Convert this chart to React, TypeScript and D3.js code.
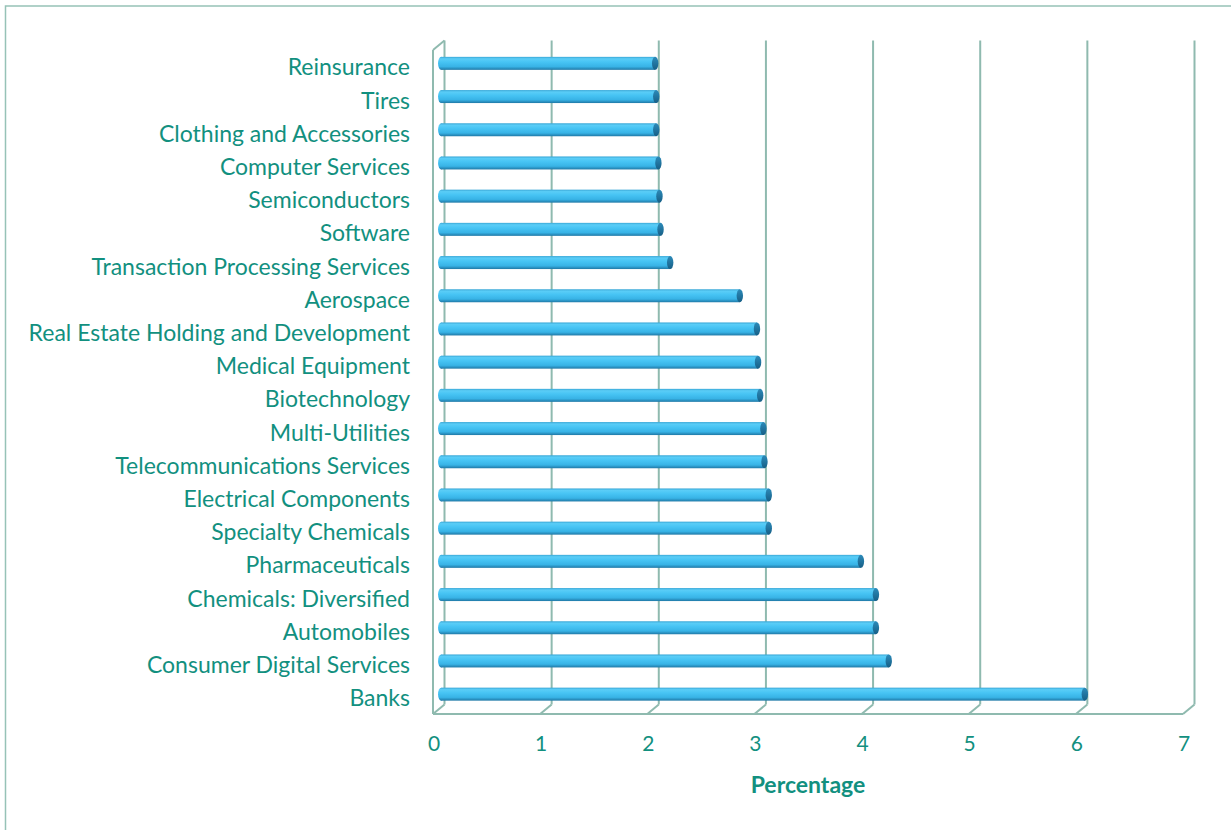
import React from "react";
import * as d3 from "d3";

const categories: string[] = [
  "Reinsurance",
  "Tires",
  "Clothing and Accessories",
  "Computer Services",
  "Semiconductors",
  "Software",
  "Transaction Processing Services",
  "Aerospace",
  "Real Estate Holding and Development",
  "Medical Equipment",
  "Biotechnology",
  "Multi-Utilities",
  "Telecommunications Services",
  "Electrical Components",
  "Specialty Chemicals",
  "Pharmaceuticals",
  "Chemicals: Diversified",
  "Automobiles",
  "Consumer Digital Services",
  "Banks",
];

const values: number[] = [
  2.02, 2.03, 2.03, 2.05, 2.06, 2.07, 2.16, 2.81, 2.97, 2.98, 3.0, 3.03, 3.04,
  3.08, 3.08, 3.94, 4.08, 4.08, 4.2, 6.03,
];

const ticks: number[] = [0, 1, 2, 3, 4, 5, 6, 7];
const axisTitle = "Percentage";

const W = 1231;
const H = 830;
const FONT = "Lato, 'Open Sans', sans-serif";
const TEXT = "#12907F";
const GRID = "#8FBAAF";

export default function App() {
  const left = 433;
  const right = 1183;
  const top = 50;
  const floor = 714;
  const dx = 11.5;
  const dy = -9.5;

  const x = d3.scaleLinear().domain([0, 7]).range([left, right]);
  const y = d3.scaleBand<string>().domain(categories).range([top, floor]);
  const bw = y.bandwidth();
  const barH = 13;
  const capRx = 3.2;

  return (
    <svg
      width={W}
      height={H}
      style={{ position: "absolute", left: 0, top: 0, background: "#fff" }}
    >
      <defs>
        <linearGradient id="cyl" x1="0" y1="0" x2="0" y2="1">
          <stop offset="0" stopColor="#3AA7D6" />
          <stop offset="0.15" stopColor="#5ACDF7" />
          <stop offset="0.4" stopColor="#47C4F4" />
          <stop offset="0.75" stopColor="#38B3E6" />
          <stop offset="1" stopColor="#1F78A6" />
        </linearGradient>
        <linearGradient id="cap" x1="0" y1="0" x2="0" y2="1">
          <stop offset="0" stopColor="#2C8BBA" />
          <stop offset="1" stopColor="#175F86" />
        </linearGradient>
      </defs>

      {/* outer border */}
      <rect x={5.5} y={6} width={W + 20} height={H + 20} fill="none" stroke="#96C2B7" strokeWidth={1.5} />

      {/* left wall */}
      <line x1={left} y1={top} x2={left} y2={floor} stroke={GRID} strokeWidth={2} />
      <line x1={left} y1={top} x2={left + dx} y2={top + dy} stroke={GRID} strokeWidth={2} />
      {/* floor front edge */}
      <line x1={left} y1={floor} x2={right} y2={floor} stroke={GRID} strokeWidth={2} />

      {/* back wall gridlines + floor diagonals */}
      {ticks.map((t) => (
        <g key={"g" + t}>
          <line
            x1={x(t) + dx}
            y1={top + dy}
            x2={x(t) + dx}
            y2={floor + dy}
            stroke={GRID}
            strokeWidth={2}
          />
          <line
            x1={x(t) + dx}
            y1={floor + dy}
            x2={x(t)}
            y2={floor}
            stroke={GRID}
            strokeWidth={2}
          />
        </g>
      ))}

      {/* bars */}
      {categories.map((c, i) => {
        const cy = (y(c) as number) + bw / 2 + dy / 2 + 1.5;
        const xs = x(0) + dx / 2 + 2.5;
        const xe = x(values[i]) + dx / 2;
        return (
          <g key={c}>
            <ellipse cx={xs} cy={cy} rx={capRx} ry={barH / 2} fill="url(#cyl)" />
            <rect x={xs} y={cy - barH / 2} width={xe - xs} height={barH} fill="url(#cyl)" />
            <ellipse cx={xe} cy={cy} rx={capRx} ry={barH / 2} fill="url(#cap)" />
          </g>
        );
      })}

      {/* category labels */}
      {categories.map((c) => (
        <text
          key={"l" + c}
          x={410}
          y={(y(c) as number) + bw / 2 + 3}
          textAnchor="end"
          dominantBaseline="middle"
          fontFamily={FONT}
          fontSize={23}
          fill={TEXT}
        >
          {c}
        </text>
      ))}

      {/* tick labels */}
      {ticks.map((t) => (
        <text
          key={"t" + t}
          x={x(t) + 1}
          y={746}
          textAnchor="middle"
          dominantBaseline="middle"
          fontFamily={FONT}
          fontSize={21}
          fill={TEXT}
        >
          {t}
        </text>
      ))}

      <text
        x={(left + right) / 2}
        y={787}
        textAnchor="middle"
        dominantBaseline="middle"
        fontFamily={FONT}
        fontSize={23}
        fontWeight="bold"
        fill={TEXT}
      >
        {axisTitle}
      </text>
    </svg>
  );
}
